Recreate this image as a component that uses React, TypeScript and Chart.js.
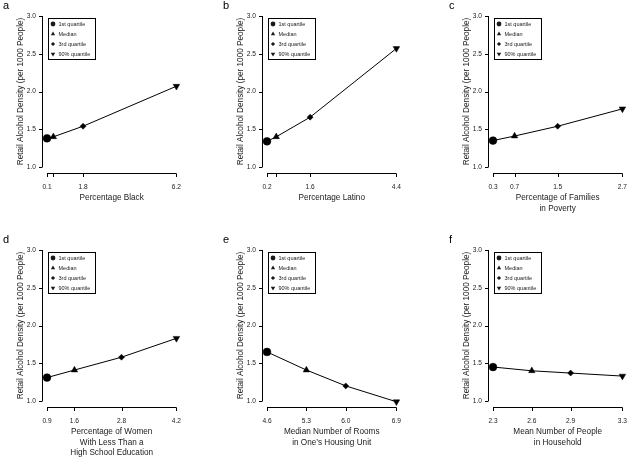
import React, { useEffect, useRef } from 'react';
import { Chart, registerables } from 'chart.js';
Chart.register(...registerables);

const FONT = "'Liberation Sans', Arial, sans-serif";
const LETTER_FONT = "'Liberation Sans', Arial, sans-serif";
const INK = '#1a1a1a';

const legendLabels = ['1st quartile', 'Median', '3rd quartile', '90% quantile'];
const pointStyles = ['circle', 'triangle', 'rectRot', 'triangle'];
const pointRotations = [0, 0, 0, 180];
const yTicks = [1.0, 1.5, 2.0, 2.5, 3.0];

const blackX = [0.1, 0.4, 1.8, 6.2];
const blackY = [1.38, 1.4, 1.54, 2.07];
const blackTickLabels = ['0.1', '', '1.8', '6.2'];

const latinoX = [0.2, 0.5, 1.6, 4.4];
const latinoY = [1.34, 1.4, 1.66, 2.57];
const latinoTickLabels = ['0.2', '', '1.6', '4.4'];

const povertyX = [0.3, 0.7, 1.5, 2.7];
const povertyY = [1.35, 1.41, 1.54, 1.77];
const povertyTickLabels = ['0.3', '0.7', '1.5', '2.7'];

const womenX = [0.9, 1.6, 2.8, 4.2];
const womenY = [1.31, 1.41, 1.58, 1.83];
const womenTickLabels = ['0.9', '1.6', '2.8', '4.2'];

const roomsX = [4.6, 5.3, 6.0, 6.9];
const roomsY = [1.65, 1.41, 1.2, 0.99];
const roomsTickLabels = ['4.6', '5.3', '6.0', '6.9'];

const peopleX = [2.3, 2.6, 2.9, 3.3];
const peopleY = [1.45, 1.4, 1.37, 1.33];
const peopleTickLabels = ['2.3', '2.6', '2.9', '3.3'];

const yTitle = 'Retail Alcohol Density (per 1000 People)';

function drawMarker(ctx: CanvasRenderingContext2D, style: string, rot: number, r: number, x: number, y: number) {
  ctx.beginPath();
  if (style === 'circle') {
    ctx.arc(x, y, r, 0, Math.PI * 2);
  } else if (style === 'rectRot') {
    ctx.moveTo(x, y - r);
    ctx.lineTo(x + r, y);
    ctx.lineTo(x, y + r);
    ctx.lineTo(x - r, y);
    ctx.closePath();
  } else {
    const s = rot === 180 ? -1 : 1;
    const h = r * 0.866;
    ctx.moveTo(x, y - s * r);
    ctx.lineTo(x + h, y + s * r * 0.5);
    ctx.lineTo(x - h, y + s * r * 0.5);
    ctx.closePath();
  }
  ctx.fill();
}

const axesPlugin = {
  id: 'offsetAxes',
  afterDraw(chart: any) {
    const { ctx, chartArea, scales } = chart;
    const x = scales.x;
    const y = scales.y;
    ctx.save();
    ctx.strokeStyle = '#000';
    ctx.lineWidth = 1;
    const ax = Math.round(chartArea.left - 5.5) + 0.5;
    ctx.beginPath();
    ctx.moveTo(ax, y.getPixelForValue(y.min));
    ctx.lineTo(ax, y.getPixelForValue(y.max));
    y.ticks.forEach((t: any) => {
      const py = Math.round(y.getPixelForValue(t.value)) + 0.5;
      ctx.moveTo(ax - 3.5, py);
      ctx.lineTo(ax, py);
    });
    ctx.stroke();
    const ay = Math.round(chartArea.bottom + 5.5) + 0.5;
    ctx.beginPath();
    ctx.moveTo(x.getPixelForValue(x.ticks[0].value), ay);
    ctx.lineTo(x.getPixelForValue(x.ticks[x.ticks.length - 1].value), ay);
    x.ticks.forEach((t: any) => {
      const px = Math.round(x.getPixelForValue(t.value)) + 0.5;
      ctx.moveTo(px, ay);
      ctx.lineTo(px, ay + 3.5);
    });
    ctx.stroke();
    ctx.restore();
  },
};

const legendRadii = [2.4, 2.5, 2.1, 2.6];

const legendPlugin = {
  id: 'boxLegend',
  afterDraw(chart: any) {
    const { ctx, chartArea } = chart;
    const bx = Math.round(chartArea.left + 1) + 0.5;
    const by = Math.round(chartArea.top + 2) + 0.5;
    ctx.save();
    ctx.strokeStyle = '#000';
    ctx.lineWidth = 1;
    ctx.strokeRect(bx, by, 47, 41);
    ctx.fillStyle = INK;
    ctx.font = `5.5px ${FONT}`;
    ctx.textBaseline = 'middle';
    ctx.textAlign = 'left';
    legendLabels.forEach((lab, i) => {
      const yy = by + 5.5 + i * 10;
      drawMarker(ctx, pointStyles[i], pointRotations[i], legendRadii[i], bx + 4.5, yy);
      ctx.fillText(lab, bx + 10, yy + 0.5);
    });
    ctx.restore();
  },
};

const letterPlugin = {
  id: 'panelLetter',
  afterDraw(chart: any) {
    const letter = chart.options.plugins.panelLetter.text;
    const { ctx } = chart;
    ctx.save();
    ctx.fillStyle = '#000';
    ctx.font = `11px ${LETTER_FONT}`;
    ctx.textBaseline = 'alphabetic';
    ctx.textAlign = 'left';
    ctx.fillText(letter, 2, 9);
    ctx.restore();
  },
};

type PanelProps = {
  letter: string;
  xs: number[];
  ys: number[];
  tickLabels: string[];
  title: string[];
  left: number;
  top: number;
};

const W = 196;
const H = 225;

function Panel({ letter, xs, ys, tickLabels, title, left, top }: PanelProps) {
  const ref = useRef<HTMLCanvasElement | null>(null);
  useEffect(() => {
    const lh = 10.5;
    const tsize = 8.2;
    const chart = new Chart(ref.current as HTMLCanvasElement, {
      type: 'scatter',
      data: {
        datasets: [
          {
            data: xs.map((x, i) => ({ x, y: ys[i] })),
            showLine: true,
            borderColor: '#000',
            borderWidth: 1,
            backgroundColor: '#000',
            pointBackgroundColor: '#000',
            pointBorderColor: '#000',
            pointBorderWidth: 0.5,
            pointStyle: pointStyles as any,
            pointRotation: pointRotations,
            pointRadius: [3.9, 3.7, 3.0, 3.8],
            clip: false as any,
          },
        ],
      },
      options: {
        animation: false,
        responsive: false,
        maintainAspectRatio: false,
        events: [],
        layout: { padding: { left: 0, right: 9, top: 16, bottom: 0 } },
        plugins: {
          legend: { display: false },
          tooltip: { enabled: false },
          panelLetter: { text: letter },
        } as any,
        scales: {
          x: {
            type: 'linear',
            min: xs[0],
            max: xs[xs.length - 1],
            grid: { display: false, drawTicks: false },
            border: { display: false },
            afterBuildTicks: (s: any) => {
              s.ticks = xs.map((v) => ({ value: v }));
            },
            afterFit: (s: any) => {
              s.height = 58;
            },
            ticks: {
              autoSkip: false,
              maxRotation: 0,
              minRotation: 0,
              padding: 16,
              color: INK,
              font: { family: FONT, size: 6.6 },
              callback: (_v: any, i: number) => tickLabels[i],
            },
            title: {
              display: true,
              text: title.length === 1 ? title[0] : title,
              color: INK,
              font: { family: FONT, size: tsize, lineHeight: lh / tsize },
              padding: { top: 0, bottom: 27 - lh / 2 - lh * (title.length - 1) },
            },
          },
          y: {
            type: 'linear',
            min: 1,
            max: 3,
            grid: { display: false, drawTicks: false },
            border: { display: false },
            afterBuildTicks: (s: any) => {
              s.ticks = yTicks.map((v) => ({ value: v }));
            },
            afterFit: (s: any) => {
              s.width = 46;
            },
            ticks: {
              padding: 11,
              color: INK,
              font: { family: FONT, size: 6.6 },
              callback: (v: any) => Number(v).toFixed(1),
            },
            title: {
              display: true,
              text: yTitle,
              color: INK,
              font: { family: FONT, size: tsize, lineHeight: 1.2 },
              padding: { top: 14.5, bottom: 0 },
            },
          },
        },
      } as any,
      plugins: [axesPlugin, legendPlugin, letterPlugin],
    });
    return () => chart.destroy();
  }, []);
  return (
    <canvas
      ref={ref}
      width={W}
      height={H}
      style={{ position: 'absolute', left, top, width: W, height: H }}
    />
  );
}

const colLefts = [1, 221, 447];
const rowTops = [0, 234];

export default function App() {
  return (
    <div
      style={{
        position: 'fixed',
        left: 0,
        top: 0,
        width: 638,
        height: 459,
        overflow: 'hidden',
        background: '#fff',
      }}
    >
      <Panel letter="a" xs={blackX} ys={blackY} tickLabels={blackTickLabels} title={['Percentage Black']} left={colLefts[0]} top={rowTops[0]} />
      <Panel letter="b" xs={latinoX} ys={latinoY} tickLabels={latinoTickLabels} title={['Percentage Latino']} left={colLefts[1]} top={rowTops[0]} />
      <Panel letter="c" xs={povertyX} ys={povertyY} tickLabels={povertyTickLabels} title={['Percentage of Families', 'in Poverty']} left={colLefts[2]} top={rowTops[0]} />
      <Panel letter="d" xs={womenX} ys={womenY} tickLabels={womenTickLabels} title={['Percentage of Women', 'With Less Than a', 'High School Education']} left={colLefts[0]} top={rowTops[1]} />
      <Panel letter="e" xs={roomsX} ys={roomsY} tickLabels={roomsTickLabels} title={['Median Number of Rooms', 'in One\u2019s Housing Unit']} left={colLefts[1]} top={rowTops[1]} />
      <Panel letter="f" xs={peopleX} ys={peopleY} tickLabels={peopleTickLabels} title={['Mean Number of People', 'in Household']} left={colLefts[2]} top={rowTops[1]} />
    </div>
  );
}
